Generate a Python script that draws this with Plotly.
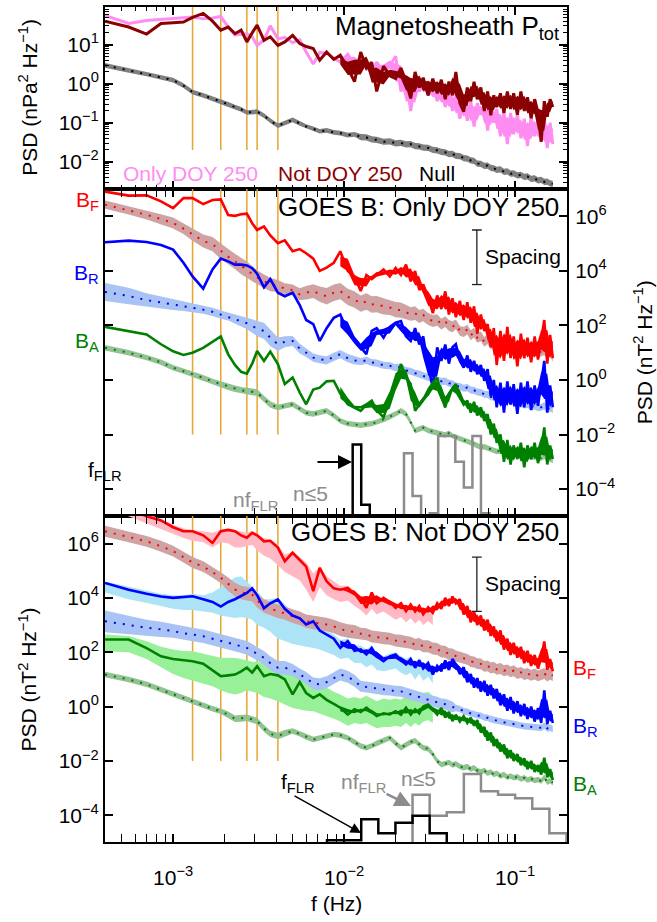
import plotly.graph_objects as go

# ---------------------------------------------------------------- data
FREQ_MHZ = [0.40, 0.55, 0.70, 0.85, 1.0, 1.15, 1.3, 1.5, 1.7, 1.9,
            2.1, 2.3, 2.5, 2.7, 2.9, 3.1, 3.4, 3.7, 4.1, 4.5,
            5.0, 5.5, 6.0, 6.6, 7.2, 7.9, 8.7, 9.5, 10.5, 11.5,
            12.5, 13.5, 14.5, 15.5, 17, 18.5, 20, 21.5, 23, 24.5,
            26, 27.5, 29, 31, 33, 35, 37, 39, 41, 43,
            45, 47.5, 50, 52.5, 55, 57.5, 60, 63, 66, 69,
            72, 75, 78, 82, 86, 90, 94, 98, 103, 108,
            113, 118, 124, 130, 136, 142, 148, 154, 160, 166]

# ---- Magnetosheath P_tot (log10 nPa^2/Hz)
TOP_ONLY = [1.75, 1.54, 1.62, 1.65, 1.68, 1.70, 1.71, 1.66, 1.68, 1.72,
            1.45, 1.25, 1.27, 1.28, 1.20, 0.98, 1.12, 1.48, 1.15, 1.18,
            1.05, 1.12, 0.81, 0.50, 0.80, 0.78, 0.66, 0.55, 0.75, 0.50,
            0.62, 0.45, 0.25, 0.55, 0.30, 0.45, 0.70, -0.20, 0.20, -0.70,
            0.05, -0.20, 0.10, -0.30, 0.00, -0.45, -0.10, -0.60, -0.20, -0.70,
            -0.30, -0.90, -0.40, -0.95, -0.45, -1.10, -0.50, -0.80, -0.55, -1.20,
            -0.60, -1.00, -0.65, -1.35, -0.70, -1.55, -0.75, -1.30, -0.80, -1.40,
            -0.90, -1.60, -0.85, -1.35, -0.95, -1.50, -0.90, -1.65, -1.00, -1.55]
TOP_NOT = [1.60, 1.45, 1.27, 1.54, 1.56, 1.58, 1.70, 1.80, 1.60, 1.37,
           1.45, 1.28, 1.37, 1.07, 1.30, 1.50, 1.11, 1.20, 0.98, 1.07,
           1.24, 1.03, 0.95, 0.90, 0.60, 0.81, 0.62, 0.73, 0.40, 0.05,
           0.81, 0.40, 0.55, -0.20, 0.45, 0.20, 0.13, 0.40, 0.05, -0.38,
           0.30, -0.10, 0.15, -0.30, 0.13, -0.25, 0.10, -0.40, 0.05, -0.30,
           0.30, -0.50, -0.72, -0.10, -0.45, 0.05, -0.40, -0.10, -0.70, -0.20,
           -0.81, -0.30, -0.60, -0.25, -0.75, -0.20, -0.65, -0.25, -0.80, -0.20,
           -0.70, -0.35, -0.89, -0.40, -0.75, -1.49, -0.45, -0.85, -0.40, -0.60]
TOP_NULL = [0.47, 0.34, 0.25, 0.17, 0.09, -0.05, -0.22, -0.30, -0.38, -0.47,
            -0.53, -0.60, -0.66, -0.74, -0.73, -0.72, -0.82, -0.95, -1.08, -1.00,
            -0.93, -1.02, -1.10, -1.16, -1.22, -1.20, -1.25, -1.27, -1.32, -1.30,
            -1.37, -1.38, -1.43, -1.44, -1.49, -1.48, -1.53, -1.52, -1.56, -1.55,
            -1.60, -1.61, -1.64, -1.65, -1.70, -1.71, -1.75, -1.76, -1.81, -1.80,
            -1.85, -1.86, -1.91, -1.92, -1.97, -1.98, -2.05, -2.06, -2.11, -2.10,
            -2.16, -2.17, -2.21, -2.20, -2.26, -2.25, -2.31, -2.30, -2.35, -2.34,
            -2.39, -2.38, -2.44, -2.43, -2.48, -2.47, -2.52, -2.51, -2.56, -2.57]
TOP_NULL_W = [0.06, 0.06, 0.06, 0.06, 0.06, 0.06, 0.06, 0.06, 0.06, 0.06,
              0.06, 0.06, 0.06, 0.06, 0.06, 0.06, 0.06, 0.06, 0.06, 0.06,
              0.06, 0.06, 0.06, 0.06, 0.06, 0.06, 0.06, 0.06, 0.06, 0.06,
              0.08, 0.08, 0.08, 0.08, 0.08, 0.08, 0.08, 0.08, 0.08, 0.08,
              0.08, 0.08, 0.08, 0.08, 0.08, 0.08, 0.08, 0.08, 0.08, 0.08,
              0.08, 0.08, 0.08, 0.08, 0.08, 0.08, 0.08, 0.08, 0.08, 0.08,
              0.08, 0.08, 0.08, 0.08, 0.08, 0.08, 0.08, 0.08, 0.08, 0.08,
              0.08, 0.08, 0.08, 0.08, 0.08, 0.08, 0.08, 0.08, 0.08, 0.08]

# ---- GOES B: Only DOY 250 (log10 nT^2/Hz, offset for display)
MID_BF = [6.91, 6.76, 6.77, 6.55, 6.30, 6.67, 6.67, 6.45, 6.60, 6.62,
          6.05, 6.02, 6.08, 6.10, 5.75, 5.50, 5.63, 5.30, 5.02, 5.12,
          4.72, 4.80, 4.65, 4.45, 4.00, 4.12, 4.30, 4.72, 4.00, 3.80,
          3.26, 3.85, 3.70, 3.85, 4.05, 3.80, 4.11, 3.85, 4.23, 3.62,
          4.00, 3.30, 3.50, 3.05, 2.45, 3.10, 2.60, 3.25, 2.40, 3.00,
          2.30, 2.90, 2.20, 2.85, 2.10, 2.70, 1.70, 2.40, 1.80, 2.05,
          1.20, 1.90, 0.55, 1.80, 0.70, 1.95, 0.80, 1.60, 0.50, 1.70,
          0.80, 1.55, 0.65, 1.60, 0.75, 1.50, 2.20, 0.60, 1.65, 0.80]
MID_BR = [5.05, 5.11, 5.06, 4.95, 4.78, 4.30, 3.80, 3.35, 4.05, 4.45,
          4.35, 4.23, 4.23, 4.20, 4.10, 3.90, 3.40, 3.70, 3.20, 3.07,
          3.20, 2.75, 2.20, 2.05, 1.43, 1.90, 2.28, 2.40, 1.75, 1.45,
          1.20, 0.95, 1.80, 1.90, 1.55, 1.95, 2.10, 2.16, 1.60, 1.43,
          1.90, 1.30, 1.60, 0.50, -0.28, 1.20, 0.70, 1.30, 0.60, 1.20,
          1.31, 0.70, 0.45, 0.90, 0.30, 0.70, 0.21, 0.55, -0.03, 0.40,
          -0.60, 0.00, -1.00, -0.10, -1.20, -0.05, -0.90, -0.15, -1.24, -0.10,
          -1.00, -0.05, -1.10, -0.20, -0.95, -0.10, 0.70, -1.20, -0.20, -1.00]
MID_BA = [1.95, 1.80, 1.67, 1.31, 1.05, 0.92, 1.00, 1.18, 1.40, 1.60,
          0.94, 0.55, 0.30, 0.23, 0.60, 1.06, 0.70, 1.04, 0.58, -0.15,
          0.09, -0.46, -0.89, -0.35, -0.28, -0.05, -0.03, -0.50, -0.89, -1.00,
          -1.13, -0.90, -0.76, -1.10, -1.37, -0.70, -0.10, 0.58, 0.10, -0.15,
          -1.13, -0.90, -0.70, -0.52, -0.10, 0.09, -0.60, -1.01, -0.50, -0.30,
          -0.15, -0.64, -0.90, -0.76, -1.20, -0.80, -1.30, -1.00, -1.50, -1.25,
          -2.00, -1.60, -2.30, -2.00, -3.00, -2.20, -3.10, -2.40, -2.90, -2.30,
          -3.20, -2.40, -2.90, -2.30, -3.05, -2.50, -1.74, -3.10, -2.40, -2.90]
MID_BF_NULL = [6.43, 6.22, 6.06, 5.90, 5.76, 5.55, 5.33, 5.10, 4.98, 4.72,
               4.52, 4.35, 4.18, 4.05, 3.90, 3.76, 3.62, 3.50, 3.45, 3.35,
               3.30, 3.14, 3.20, 3.26, 3.15, 3.07, 3.20, 3.26, 3.05, 2.95,
               2.80, 2.88, 2.77, 2.78, 2.70, 2.66, 2.58, 2.56, 2.48, 2.42,
               2.45, 2.33, 2.38, 2.24, 2.16, 2.20, 2.05, 2.14, 2.00, 1.95,
               2.04, 1.80, 1.76, 1.85, 1.64, 1.74, 1.55, 1.60, 1.40, 1.50,
               1.30, 1.44, 1.20, 1.35, 1.10, 1.30, 1.05, 1.24, 1.00, 1.20,
               0.95, 1.15, 0.90, 1.10, 0.95, 1.05, 1.10, 0.90, 1.05, 0.85]
MID_BF_NULL_W = [0.15, 0.15, 0.17, 0.18, 0.20, 0.20, 0.22, 0.24, 0.26, 0.28,
                 0.28, 0.28, 0.30, 0.30, 0.28, 0.26, 0.25, 0.25, 0.22, 0.20,
                 0.20, 0.22, 0.25, 0.25, 0.28, 0.30, 0.30, 0.30, 0.30, 0.30,
                 0.30, 0.30, 0.30, 0.30, 0.30, 0.28, 0.28, 0.28, 0.26, 0.25,
                 0.25, 0.24, 0.23, 0.22, 0.22, 0.21, 0.20, 0.20, 0.20, 0.20,
                 0.18, 0.18, 0.18, 0.18, 0.18, 0.18, 0.18, 0.18, 0.18, 0.18,
                 0.18, 0.18, 0.18, 0.18, 0.18, 0.18, 0.18, 0.18, 0.18, 0.18,
                 0.18, 0.18, 0.18, 0.18, 0.18, 0.18, 0.18, 0.18, 0.18, 0.18]
MID_BR_NULL = [3.23, 3.08, 2.93, 2.84, 2.77, 2.71, 2.65, 2.58, 2.50, 2.40,
               2.33, 2.24, 2.16, 2.08, 1.98, 1.88, 1.80, 1.55, 1.31, 1.40,
               1.43, 1.15, 1.00, 0.82, 0.76, 0.72, 0.85, 0.95, 0.80, 0.72,
               0.68, 0.72, 0.64, 0.62, 0.54, 0.52, 0.45, 0.48, 0.35, 0.32,
               0.25, 0.22, 0.15, 0.09, 0.06, -0.02, -0.05, -0.04, -0.12, -0.14,
               -0.22, -0.24, -0.30, -0.28, -0.37, -0.38, -0.44, -0.46, -0.52, -0.53,
               -0.62, -0.60, -0.68, -0.68, -0.74, -0.72, -0.80, -0.78, -0.87, -0.86,
               -0.92, -0.90, -0.97, -0.96, -1.02, -1.00, -0.95, -1.06, -1.03, -1.08]
MID_BR_NULL_W = [0.33, 0.30, 0.25, 0.22, 0.20, 0.18, 0.16, 0.15, 0.15, 0.15,
                 0.15, 0.18, 0.20, 0.22, 0.25, 0.28, 0.30, 0.30, 0.25, 0.20,
                 0.18, 0.18, 0.16, 0.15, 0.15, 0.15, 0.15, 0.15, 0.15, 0.15,
                 0.13, 0.13, 0.13, 0.13, 0.13, 0.13, 0.13, 0.13, 0.13, 0.13,
                 0.13, 0.13, 0.13, 0.13, 0.13, 0.13, 0.13, 0.13, 0.13, 0.13,
                 0.13, 0.13, 0.13, 0.13, 0.13, 0.13, 0.13, 0.13, 0.13, 0.13,
                 0.13, 0.13, 0.13, 0.13, 0.13, 0.13, 0.13, 0.13, 0.13, 0.13,
                 0.13, 0.13, 0.13, 0.13, 0.13, 0.13, 0.13, 0.13, 0.13, 0.13]
MID_BA_NULL = [1.18, 1.00, 0.82, 0.65, 0.45, 0.33, 0.21, 0.08, -0.05, -0.15,
               -0.25, -0.32, -0.38, -0.40, -0.44, -0.46, -0.70, -0.90, -1.01, -0.95,
               -0.89, -1.05, -1.20, -1.25, -1.18, -1.13, -1.30, -1.50, -1.60, -1.62,
               -1.66, -1.62, -1.60, -1.55, -1.45, -1.35, -1.25, -1.13, -1.25, -1.55,
               -1.86, -1.80, -1.75, -1.85, -1.90, -1.95, -1.98, -2.02, -1.95, -2.05,
               -2.10, -2.15, -2.20, -2.25, -2.30, -2.35, -2.40, -2.47, -2.45, -2.50,
               -2.55, -2.58, -2.62, -2.60, -2.68, -2.65, -2.72, -2.70, -2.76, -2.74,
               -2.80, -2.78, -2.84, -2.82, -2.88, -2.86, -2.80, -2.92, -2.90, -2.95]
MID_BA_NULL_W = [0.10, 0.10, 0.10, 0.10, 0.10, 0.10, 0.10, 0.10, 0.10, 0.12,
                 0.12, 0.12, 0.12, 0.12, 0.12, 0.12, 0.12, 0.12, 0.10, 0.10,
                 0.10, 0.10, 0.10, 0.10, 0.10, 0.10, 0.10, 0.10, 0.10, 0.10,
                 0.10, 0.10, 0.10, 0.10, 0.10, 0.10, 0.10, 0.10, 0.10, 0.10,
                 0.10, 0.10, 0.10, 0.10, 0.10, 0.10, 0.10, 0.10, 0.10, 0.10,
                 0.10, 0.10, 0.10, 0.10, 0.10, 0.10, 0.10, 0.10, 0.10, 0.10,
                 0.10, 0.10, 0.10, 0.10, 0.10, 0.10, 0.10, 0.10, 0.10, 0.10,
                 0.10, 0.10, 0.10, 0.10, 0.10, 0.10, 0.10, 0.10, 0.10, 0.10]

# ---- GOES B: Not DOY 250
BOT_BF = [7.50, 7.25, 7.00, 6.85, 6.60, 6.45, 6.45, 6.30, 6.02, 6.45,
          6.50, 6.45, 6.30, 6.21, 6.39, 6.30, 6.08, 6.10, 5.85, 5.35,
          5.66, 5.40, 5.15, 4.25, 5.10, 4.61, 4.35, 4.30, 4.37, 4.15,
          4.00, 3.63, 4.20, 3.80, 4.00, 3.85, 3.63, 3.80, 3.51, 3.75,
          3.50, 3.70, 3.40, 3.65, 3.45, 3.80, 3.60, 4.00, 3.70, 4.05,
          3.80, 3.95, 3.39, 3.70, 3.10, 3.50, 3.00, 3.35, 2.80, 3.20,
          2.60, 2.95, 2.40, 2.80, 2.10, 2.50, 1.90, 2.35, 1.80, 2.20,
          1.60, 2.05, 1.50, 1.90, 1.40, 1.80, 2.40, 1.35, 1.75, 1.30]
BOT_BR = [4.55, 4.30, 4.15, 4.05, 4.00, 4.03, 4.06, 3.95, 3.85, 3.68,
          3.85, 3.95, 4.08, 4.18, 4.35, 4.10, 3.62, 3.80, 3.94, 3.60,
          3.35, 3.25, 3.02, 3.14, 2.80, 2.65, 2.50, 2.16, 2.41, 2.05,
          2.10, 1.92, 2.16, 1.85, 1.67, 1.85, 1.92, 1.70, 1.55, 1.75,
          1.43, 1.70, 1.40, 1.60, 1.18, 1.50, 1.30, 1.70, 1.35, 1.75,
          1.55, 1.20, 1.45, 0.90, 1.20, 0.70, 1.05, 0.55, 0.95, 0.40,
          0.80, 0.30, 0.65, 0.05, 0.45, -0.15, 0.35, -0.25, 0.20, -0.35,
          0.10, -0.45, 0.00, -0.55, -0.05, -0.60, 0.60, -0.65, -0.15, -0.60]
BOT_BA = [2.47, 2.47, 2.15, 1.85, 1.75, 1.70, 1.67, 1.58, 1.35, 1.12,
          1.15, 1.18, 1.30, 1.43, 1.25, 1.49, 1.12, 1.20, 1.15, 1.00,
          0.45, 0.90, 0.50, 0.32, 0.45, 0.25, 0.10, -0.04, -0.29, -0.10,
          -0.20, -0.04, -0.20, -0.35, -0.25, -0.29, -0.17, -0.30, -0.04, -0.29,
          -0.10, -0.25, 0.00, 0.08, -0.10, -0.29, -0.05, -0.40, -0.20, -0.53,
          -0.30, -0.55, -0.35, -0.60, -0.41, -0.70, -0.50, -0.95, -0.75, -1.25,
          -0.95, -1.45, -1.20, -1.65, -1.40, -1.90, -1.60, -2.00, -1.75, -2.15,
          -1.90, -2.30, -2.00, -2.40, -2.15, -2.50, -1.88, -2.60, -2.30, -2.70]
# spread bands of the event spectra (first 45 frequencies)
BOT_BF_HI = [7.5, 7.3, 7.1, 6.9, 6.7, 6.55, 6.5, 6.45, 6.4, 6.5,
             6.55, 6.5, 6.45, 6.4, 6.45, 6.35, 6.2, 6.15, 5.95, 5.6,
             5.7, 5.5, 5.3, 4.9, 5.15, 4.8, 4.6, 4.45, 4.45, 4.25,
             4.1, 3.9, 4.2, 3.9, 4.05, 3.9, 3.75, 3.85, 3.65, 3.8,
             3.6, 3.75, 3.55, 3.7, 3.55]
BOT_BF_LO = [7.2, 7.0, 6.75, 6.55, 6.35, 6.2, 6.1, 6.05, 5.85, 6.05,
             6.0, 5.85, 5.85, 5.9, 5.95, 5.75, 5.55, 5.45, 5.2, 4.95,
             4.8, 4.65, 4.3, 3.85, 4.4, 4.1, 3.95, 3.85, 3.9, 3.7,
             3.55, 3.35, 3.6, 3.4, 3.5, 3.35, 3.2, 3.3, 3.1, 3.25,
             3.05, 3.2, 3.0, 3.15, 3.0]
BOT_BR_HI = [4.6, 4.4, 4.25, 4.15, 4.1, 4.1, 4.15, 4.1, 4.2, 4.4,
             4.6, 4.75, 4.8, 4.6, 4.45, 4.25, 3.95, 3.95, 4.0, 3.75,
             3.5, 3.35, 3.15, 3.2, 2.95, 2.8, 2.65, 2.45, 2.5, 2.25,
             2.25, 2.1, 2.25, 2.0, 1.85, 1.95, 2.0, 1.85, 1.75, 1.85,
             1.6, 1.8, 1.55, 1.7, 1.4]
BOT_BR_LO = [4.2, 3.95, 3.8, 3.7, 3.6, 3.55, 3.55, 3.5, 3.45, 3.35,
             3.3, 3.26, 3.3, 3.26, 3.2, 3.0, 2.9, 2.75, 2.5, 2.41,
             2.3, 2.25, 2.2, 2.16, 2.1, 2.0, 1.9, 1.75, 1.8, 1.6,
             1.6, 1.45, 1.55, 1.35, 1.3, 1.35, 1.4, 1.25, 1.15, 1.25,
             1.0, 1.2, 0.95, 1.1, 0.85]
BOT_BA_HI = [2.65, 2.6, 2.4, 2.2, 2.1, 2.05, 2.04, 1.95, 1.85, 1.8,
             1.8, 1.79, 1.75, 1.7, 1.65, 1.65, 1.6, 1.55, 1.55, 1.5,
             1.2, 1.2, 1.0, 0.82, 0.85, 0.7, 0.55, 0.45, 0.3, 0.35,
             0.3, 0.4, 0.3, 0.2, 0.3, 0.25, 0.3, 0.25, 0.4, 0.3,
             0.45, 0.35, 0.5, 0.55, 0.4]
BOT_BA_LO = [2.04, 2.0, 1.75, 1.45, 1.2, 1.05, 0.94, 0.85, 0.75, 0.6,
             0.5, 0.45, 0.5, 0.6, 0.55, 0.5, 0.35, 0.3, 0.2, 0.08,
             -0.05, -0.1, -0.15, -0.17, -0.25, -0.35, -0.45, -0.55, -0.7, -0.6,
             -0.65, -0.6, -0.7, -0.8, -0.75, -0.75, -0.7, -0.75, -0.6, -0.75,
             -0.6, -0.7, -0.55, -0.5, -0.6]
BOT_BF_NULL = [6.45, 6.25, 6.08, 5.90, 5.72, 5.50, 5.30, 5.15, 4.95, 4.74,
               4.50, 4.31, 4.20, 4.15, 4.12, 3.90, 3.70, 3.60, 3.51, 3.45,
               3.33, 3.25, 3.14, 3.10, 3.05, 3.02, 2.95, 2.85, 2.78, 2.75,
               2.68, 2.66, 2.58, 2.56, 2.51, 2.50, 2.43, 2.42, 2.38, 2.35,
               2.28, 2.30, 2.22, 2.22, 2.14, 2.12, 2.03, 2.02, 1.93, 1.92,
               1.86, 1.82, 1.77, 1.74, 1.66, 1.64, 1.58, 1.57, 1.48, 1.50,
               1.42, 1.45, 1.37, 1.40, 1.32, 1.35, 1.28, 1.32, 1.22, 1.26,
               1.18, 1.22, 1.15, 1.20, 1.13, 1.18, 1.22, 1.12, 1.19, 1.14]
BOT_BF_NULL_W = [0.20, 0.20, 0.20, 0.20, 0.20, 0.20, 0.20, 0.20, 0.20, 0.20,
                 0.25, 0.25, 0.25, 0.25, 0.25, 0.25, 0.25, 0.25, 0.25, 0.25,
                 0.25, 0.25, 0.25, 0.25, 0.25, 0.25, 0.25, 0.25, 0.25, 0.25,
                 0.22, 0.22, 0.22, 0.22, 0.22, 0.22, 0.22, 0.22, 0.22, 0.22,
                 0.22, 0.22, 0.22, 0.22, 0.22, 0.22, 0.22, 0.22, 0.22, 0.22,
                 0.20, 0.20, 0.20, 0.20, 0.20, 0.20, 0.20, 0.20, 0.20, 0.20,
                 0.20, 0.20, 0.20, 0.20, 0.20, 0.20, 0.20, 0.20, 0.20, 0.20,
                 0.20, 0.20, 0.20, 0.20, 0.20, 0.20, 0.20, 0.20, 0.20, 0.20]
BOT_BR_NULL = [3.14, 3.00, 2.90, 2.84, 2.78, 2.70, 2.65, 2.59, 2.50, 2.41,
               2.35, 2.28, 2.22, 2.16, 2.05, 1.95, 1.80, 1.60, 1.43, 1.43,
               1.35, 1.18, 1.05, 0.85, 0.82, 0.90, 1.05, 1.18, 1.10, 0.95,
               0.75, 0.72, 0.70, 0.66, 0.62, 0.61, 0.57, 0.56, 0.50, 0.46,
               0.40, 0.36, 0.30, 0.26, 0.20, 0.16, 0.10, 0.09, 0.03, -0.01,
               -0.05, -0.09, -0.17, -0.19, -0.25, -0.27, -0.32, -0.34, -0.40, -0.41,
               -0.46, -0.49, -0.53, -0.55, -0.58, -0.59, -0.62, -0.64, -0.68, -0.69,
               -0.72, -0.73, -0.75, -0.76, -0.77, -0.78, -0.70, -0.80, -0.78, -0.82]
BOT_BR_NULL_W = [0.40, 0.35, 0.30, 0.28, 0.25, 0.25, 0.25, 0.25, 0.25, 0.25,
                 0.25, 0.25, 0.25, 0.25, 0.25, 0.25, 0.25, 0.25, 0.25, 0.25,
                 0.22, 0.22, 0.22, 0.22, 0.22, 0.22, 0.22, 0.22, 0.22, 0.22,
                 0.20, 0.20, 0.20, 0.20, 0.20, 0.20, 0.20, 0.20, 0.20, 0.20,
                 0.20, 0.20, 0.20, 0.20, 0.20, 0.20, 0.20, 0.20, 0.20, 0.20,
                 0.12, 0.12, 0.12, 0.12, 0.12, 0.12, 0.12, 0.12, 0.12, 0.12,
                 0.12, 0.12, 0.12, 0.12, 0.12, 0.12, 0.12, 0.12, 0.12, 0.12,
                 0.12, 0.12, 0.12, 0.12, 0.12, 0.12, 0.12, 0.12, 0.12, 0.12]
BOT_BA_NULL = [1.18, 1.00, 0.82, 0.62, 0.45, 0.30, 0.18, 0.05, -0.08, -0.17,
               -0.30, -0.45, -0.44, -0.41, -0.47, -0.53, -0.80, -1.00, -1.08, -0.98,
               -0.90, -1.00, -1.12, -1.21, -1.15, -1.08, -1.02, -1.05, -1.15, -1.30,
               -1.45, -1.51, -1.45, -1.35, -1.25, -1.15, -1.35, -1.51, -1.40, -1.30,
               -1.25, -1.40, -1.51, -1.55, -1.75, -2.00, -2.13, -2.10, -2.05, -2.15,
               -2.10, -2.20, -2.25, -2.20, -2.30, -2.25, -2.35, -2.40, -2.35, -2.45,
               -2.40, -2.50, -2.45, -2.55, -2.50, -2.60, -2.55, -2.62, -2.58, -2.66,
               -2.62, -2.70, -2.65, -2.72, -2.68, -2.74, -2.60, -2.78, -2.72, -2.80]
BOT_BA_NULL_W = [0.10, 0.10, 0.10, 0.10, 0.10, 0.10, 0.10, 0.10, 0.10, 0.10,
                 0.12, 0.12, 0.12, 0.12, 0.12, 0.12, 0.12, 0.12, 0.12, 0.12,
                 0.10, 0.10, 0.10, 0.10, 0.10, 0.10, 0.10, 0.10, 0.10, 0.10,
                 0.10, 0.10, 0.10, 0.10, 0.10, 0.10, 0.10, 0.10, 0.10, 0.10,
                 0.10, 0.10, 0.10, 0.10, 0.10, 0.10, 0.10, 0.10, 0.10, 0.10,
                 0.10, 0.10, 0.10, 0.10, 0.10, 0.10, 0.10, 0.10, 0.10, 0.10,
                 0.10, 0.10, 0.10, 0.10, 0.10, 0.10, 0.10, 0.10, 0.10, 0.10,
                 0.10, 0.10, 0.10, 0.10, 0.10, 0.10, 0.10, 0.10, 0.10, 0.10]

# ---- f_FLR histograms (bin edges in log10 Hz, counts)
MID_FFLR_EDGES = [-1.95, -1.90, -1.85]
MID_FFLR_COUNTS = [9, 2]
MID_NFFLR_EDGES = [-1.65, -1.60, -1.55, -1.50, -1.45, -1.40, -1.35, -1.30, -1.25, -1.20, -1.15]
MID_NFFLR_COUNTS = [8, 3, 0, 1, 10, 10, 7, 4, 10, 1]
BOT_FFLR_EDGES = [-2.1, -2.0, -1.9, -1.8, -1.7, -1.6, -1.5, -1.4]
BOT_FFLR_COUNTS = [1, 1, 7, 3, 6, 8, 3]
BOT_NFFLR_EDGES = [-1.6, -1.5, -1.4, -1.3, -1.2, -1.1, -1.0, -0.9, -0.8, -0.7]
BOT_NFFLR_COUNTS = [14, 8, 9, 20, 15, 14, 13, 10, 3]

# marked frequencies (mHz) and spacing between components (decades)
FLINE_MHZ = [1.3, 1.9, 2.7, 3.1, 4.1]
SPACING_DECADES = 2.0

for _arr in [TOP_ONLY, TOP_NOT, TOP_NULL, TOP_NULL_W, MID_BF, MID_BR, MID_BA,
             MID_BF_NULL, MID_BF_NULL_W, MID_BR_NULL, MID_BR_NULL_W, MID_BA_NULL,
             MID_BA_NULL_W, BOT_BF, BOT_BR, BOT_BA, BOT_BF_NULL, BOT_BF_NULL_W,
             BOT_BR_NULL, BOT_BR_NULL_W, BOT_BA_NULL, BOT_BA_NULL_W]:
    assert len(_arr) == len(FREQ_MHZ)

# ---------------------------------------------------------------- geometry
W, H = 657, 922
ML, MR, MT, MB = 105, 90, 5, 80
PW, PH = W - ML - MR, H - MT - MB
FONT = "Liberation Sans, Arial, Helvetica, sans-serif"
NOISY_FROM = 27   # index from which the spectra get a filled core (dense sampling)


def xp(px):
    return (px - ML) / PW


def yp(py):
    return (H - MB - py) / PH


freq = [v * 1e-3 for v in FREQ_MHZ]


def pw(a):
    return [10.0 ** v for v in a]


fig = go.Figure()


def add_line(xa, ya, x, y, color, width, dash=None, shape='linear'):
    fig.add_trace(go.Scatter(x=x, y=y, mode='lines',
                             line=dict(color=color, width=width, dash=dash, shape=shape),
                             xaxis=xa, yaxis=ya, showlegend=False, hoverinfo='skip'))


def add_band(xa, ya, x, lo, hi, color):
    x = list(x)
    fig.add_trace(go.Scatter(x=x + x[::-1], y=list(hi) + list(lo)[::-1], mode='lines',
                             fill='toself', fillcolor=color, line=dict(width=0, color=color),
                             xaxis=xa, yaxis=ya, showlegend=False, hoverinfo='skip'))


def add_null(xa, ya, center, half, band_color, dot_color):
    lo = [10 ** (c - h) for c, h in zip(center, half)]
    hi = [10 ** (c + h) for c, h in zip(center, half)]
    add_band(xa, ya, freq, lo, hi, band_color)
    add_line(xa, ya, freq, pw(center), dot_color, 2, dash="2px,7px")


def add_spectrum(xa, ya, vals, color, width):
    # high-frequency part: fill the inner core between local highs and lows so
    # the densely sampled spectrum reads as a solid noisy band; spikes stay outside
    n = len(vals)
    idx = list(range(NOISY_FROM, n))
    hi, lo = [], []
    for i in idx:
        win = vals[max(i - 1, 0):min(i + 2, n)]
        mean = sum(win) / len(win)
        hi.append(0.5 * (max(win) + mean))
        lo.append(0.5 * (min(win) + mean))
    add_band(xa, ya, [freq[i] for i in idx], pw(lo), pw(hi), color)
    add_line(xa, ya, freq, pw(vals), color, width)


def add_flines(xa, ya, ybot, ytop):
    xs, ys = [], []
    for m in FLINE_MHZ:
        xs += [m * 1e-3, m * 1e-3, None]
        ys += [ybot, ytop, None]
    add_line(xa, ya, xs, ys, "#e8a530", 1.5)


def add_hist(xa, ya, edges, counts, color):
    E = [10 ** e for e in edges]
    xs = [E[0]] + E[:-1] + [E[-1]]
    ys = [0] + list(counts) + [0]
    add_line(xa, ya, xs, ys, color, 2.5, shape='hv')


def add_spacing(xa, ya, fx, center_log):
    fig.add_trace(go.Scatter(x=[fx, fx],
                             y=[10 ** (center_log + SPACING_DECADES / 2), 10 ** (center_log - SPACING_DECADES / 2)],
                             mode='lines+markers', line=dict(color='#222222', width=1.3),
                             marker=dict(symbol='line-ew', size=7, line=dict(width=1.3, color='#222222')),
                             xaxis=xa, yaxis=ya, showlegend=False, hoverinfo='skip'))


PINK, DRED = "#ff8cf0", "#8b0000"
RED, BLUE, GREEN = "#ff0000", "#0000ff", "#008000"
NB_RED, NB_BLUE, NB_GREEN = "#cfa3a3", "#a9c3f4", "#93c193"
SB_RED, SB_BLUE, SB_GREEN = "#ffb8c4", "#ade3f7", "#98f098"
HGRAY = "#8c8c8c"

# ---- top panel
add_flines('x', 'y', 0.02, 1e3)
add_null('x', 'y', TOP_NULL, TOP_NULL_W, "#7f7f7f", "#000000")
add_spectrum('x', 'y', TOP_ONLY, PINK, 3)
add_spectrum('x', 'y', TOP_NOT, DRED, 3)

# ---- middle panel
add_flines('x2', 'y2', 0.01, 1e8)
add_null('x2', 'y2', MID_BF_NULL, MID_BF_NULL_W, NB_RED, RED)
add_null('x2', 'y2', MID_BR_NULL, MID_BR_NULL_W, NB_BLUE, BLUE)
add_null('x2', 'y2', MID_BA_NULL, MID_BA_NULL_W, NB_GREEN, GREEN)
add_spectrum('x2', 'y2', MID_BF, RED, 2.6)
add_spectrum('x2', 'y2', MID_BR, BLUE, 2.6)
add_spectrum('x2', 'y2', MID_BA, GREEN, 2.6)
add_spacing('x2', 'y2', 0.0597, 4.5)
add_hist('x2', 'y4', MID_NFFLR_EDGES, MID_NFFLR_COUNTS, HGRAY)
add_hist('x2', 'y4', MID_FFLR_EDGES, MID_FFLR_COUNTS, "#000000")

# ---- bottom panel
add_flines('x3', 'y3', 0.01, 1e8)
fb = freq[:len(BOT_BF_HI)]
add_band('x3', 'y3', fb, pw(BOT_BF_LO), pw(BOT_BF_HI), SB_RED)
add_band('x3', 'y3', fb, pw(BOT_BR_LO), pw(BOT_BR_HI), SB_BLUE)
add_band('x3', 'y3', fb, pw(BOT_BA_LO), pw(BOT_BA_HI), SB_GREEN)
add_null('x3', 'y3', BOT_BF_NULL, BOT_BF_NULL_W, NB_RED, RED)
add_null('x3', 'y3', BOT_BR_NULL, BOT_BR_NULL_W, NB_BLUE, BLUE)
add_null('x3', 'y3', BOT_BA_NULL, BOT_BA_NULL_W, NB_GREEN, GREEN)
add_spectrum('x3', 'y3', BOT_BF, RED, 2.6)
add_spectrum('x3', 'y3', BOT_BR, BLUE, 2.6)
add_spectrum('x3', 'y3', BOT_BA, GREEN, 2.6)
add_spacing('x3', 'y3', 0.0597, 4.5)
add_hist('x3', 'y5', BOT_NFFLR_EDGES, BOT_NFFLR_COUNTS, HGRAY)
add_hist('x3', 'y5', BOT_FFLR_EDGES, BOT_FFLR_COUNTS, "#000000")

# ---------------------------------------------------------------- axes
MINUS = "\u2212"


def ptext(p):
    return "10<sup>" + (MINUS if p < 0 else "") + str(abs(p)) + "</sup>"


minor_x = [k * 10.0 ** d for d in range(-4, 0) for k in range(2, 10)]
xbase = dict(type='log', range=[-3.398, -0.697], showline=True, linewidth=2, linecolor='black',
             mirror='allticks', ticks='inside', ticklen=8, tickwidth=1.5, tickcolor='black',
             tickmode='array', tickvals=[1e-3, 1e-2, 1e-1], ticktext=[ptext(-3), ptext(-2), ptext(-1)],
             showgrid=False, zeroline=False, tickfont=dict(size=21, family=FONT, color='black'),
             minor=dict(tickmode='array', tickvals=minor_x, ticks='inside', ticklen=4,
                        tickwidth=1, tickcolor='black', showgrid=False))

ybase = dict(type='log', showline=True, linewidth=2, linecolor='black', mirror='allticks',
             ticks='inside', ticklen=8, tickwidth=1.5, tickcolor='black', showgrid=False,
             zeroline=False, tickfont=dict(size=21, family=FONT, color='black'), tickmode='array')

top_ticks = [-2, -1, 0, 1]
minor_top = [k * 10.0 ** d for d in range(-3, 2) for k in range(2, 10)]
big_ticks = [-4, -2, 0, 2, 4, 6]

fig.update_layout(
    width=W, height=H, margin=dict(l=ML, r=MR, t=MT, b=MB),
    paper_bgcolor='white', plot_bgcolor='white',
    font=dict(family=FONT, size=21, color='black'),
    xaxis=dict(xbase, anchor='y', domain=[0, 1], showticklabels=False),
    xaxis2=dict(xbase, anchor='y2', domain=[0, 1], showticklabels=False),
    xaxis3=dict(xbase, anchor='y3', domain=[0, 1], showticklabels=True, ticklabelstandoff=16),
    yaxis=dict(ybase, anchor='x', domain=[yp(187), 1.0], range=[-2.69, 1.964], side='left',
               tickvals=[10.0 ** p for p in top_ticks], ticktext=[ptext(p) for p in top_ticks],
               minor=dict(tickmode='array', tickvals=minor_top, ticks='inside', ticklen=4,
                          tickwidth=1, tickcolor='black', showgrid=False)),
    yaxis2=dict(ybase, anchor='x2', domain=[yp(515), yp(187)], range=[-4.98, 7.02], side='right',
                tickvals=[10.0 ** p for p in big_ticks], ticktext=[ptext(p) for p in big_ticks],
                ticklabelstandoff=2),
    yaxis3=dict(ybase, anchor='x3', domain=[0, yp(515)], range=[-4.98, 7.02], side='left',
                tickvals=[10.0 ** p for p in big_ticks], ticktext=[ptext(p) for p in big_ticks]),
    yaxis4=dict(overlaying='y2', anchor='x2', range=[0.70, 38.84], visible=False),
    yaxis5=dict(overlaying='y3', anchor='x3', range=[0.514, 93.86], visible=False),
)

# ---------------------------------------------------------------- text
ann = []


def txt(px, py, text, size=21, color='black', xanchor='left', yanchor='middle', angle=0):
    ann.append(dict(x=xp(px), y=yp(py), xref='paper', yref='paper', text=text, showarrow=False,
                    xanchor=xanchor, yanchor=yanchor, textangle=angle,
                    font=dict(size=size, color=color, family=FONT)))


def arrow(hx, hy, tx, ty, color, width, size):
    ann.append(dict(x=xp(hx), y=yp(hy), xref='paper', yref='paper', text='', showarrow=True,
                    ax=tx - hx, ay=ty - hy, arrowhead=2, arrowsize=size, arrowwidth=width,
                    arrowcolor=color))


# titles
txt(561, 26, "Magnetosheath P<sub>tot</sub>", size=26, xanchor='right')
txt(561, 205, "GOES B: Only DOY 250", size=26, xanchor='right')
txt(561, 531, "GOES B: Not DOY 250", size=26, xanchor='right')
# top legend
txt(190, 172, "Only DOY 250", color=PINK, xanchor='center')
txt(340, 172, "Not DOY 250", color=DRED, xanchor='center')
txt(437, 172, "Null", color='black', xanchor='center')
# spacing
txt(483, 255, "Spacing")
txt(483, 583, "Spacing")
# component labels
txt(101, 199, "B<sub>F</sub>", color=RED, xanchor='right')
txt(101, 273, "B<sub>R</sub>", color=BLUE, xanchor='right')
txt(101, 341, "B<sub>A</sub>", color=GREEN, xanchor='right')
txt(571, 669, "B<sub>F</sub>", color=RED)
txt(571, 727, "B<sub>R</sub>", color=BLUE)
txt(571, 785, "B<sub>A</sub>", color=GREEN)
# FLR labels
txt(86, 470, "f<sub>FLR</sub>")
txt(231, 500, "nf<sub>FLR</sub>", color=HGRAY)
txt(291, 493, "n\u22645", color=HGRAY)
txt(279, 783, "f<sub>FLR</sub>")
txt(339, 783, "nf<sub>FLR</sub>", color=HGRAY)
txt(399, 778, "n\u22645", color=HGRAY)
# arrows
arrow(352, 461, 316, 461, 'black', 2, 1.4)
arrow(361, 833, 293, 795, 'black', 1.5, 1.4)
arrow(411, 806, 385, 793, HGRAY, 2.5, 1.3)
# axis titles
txt(28, 96, "PSD (nPa<sup>2</sup> Hz<sup>" + MINUS + "1</sup>)", xanchor='center', angle=-90)
txt(643, 351, "PSD (nT<sup>2</sup> Hz<sup>" + MINUS + "1</sup>)", xanchor='center', angle=-90)
txt(28, 679, "PSD (nT<sup>2</sup> Hz<sup>" + MINUS + "1</sup>)", xanchor='center', angle=-90)
txt(336, 904, "f (Hz)", xanchor='center')

fig.update_layout(annotations=ann)
fig.write_html("out.html")
